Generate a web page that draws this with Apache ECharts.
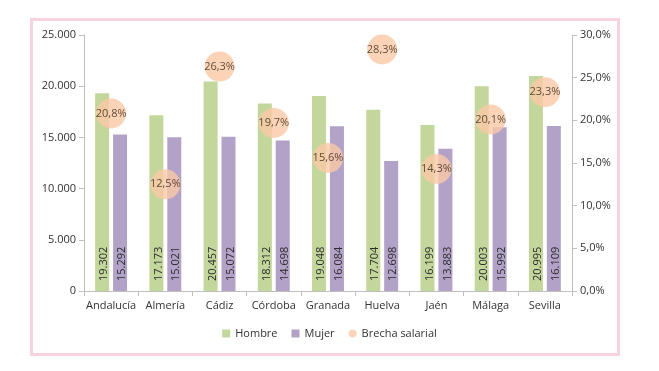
<!DOCTYPE html>
<html><head><meta charset="utf-8">
<script src="https://cdn.jsdelivr.net/npm/echarts@6/dist/echarts.min.js"></script>
<style>
html,body{margin:0;padding:0;background:#fff;}
#frame{position:absolute;left:30px;top:18px;width:584px;height:332px;border:3px solid #F8D3DF;}
#c{position:absolute;left:0;top:0;width:659px;height:371px;}
</style></head>
<body>
<div id="frame"></div>
<div id="c"></div>
<script>
const categories = ['Andalucía','Almería','Cádiz','Córdoba','Granada','Huelva','Jaén','Málaga','Sevilla'];
const hombre = [19302,17173,20457,18312,19048,17704,16199,20003,20995];
const mujer = [15292,15021,15072,14698,16084,12698,13883,15992,16109];
const brecha = [0.208,0.125,0.263,0.197,0.156,0.283,0.143,0.201,0.233];
const leftTicks = [0,5000,10000,15000,20000,25000];
const rightTicks = [0,0.05,0.10,0.15,0.20,0.25,0.30];

const fmtN = v => String(v).replace(/\B(?=(\d{3})+(?!\d))/g,'.');
const fmtP = v => (v*100).toFixed(1).replace('.',',') + '%';
const font = 'Open Sans';
const chart = echarts.init(document.getElementById('c'));
const barLabel = {show:true,position:'insideBottom',rotate:90,align:'left',verticalAlign:'middle',
  offset:[5,2],formatter:p=>fmtN(p.value),color:'#2b2b2b',fontSize:11,fontFamily:font};
chart.setOption({
  animation:false,
  textStyle:{fontFamily:font},
  grid:{left:84,right:87,top:35,bottom:80},
  legend:{
    bottom:27, left:'center', itemWidth:8, itemHeight:8, itemGap:14,
    textStyle:{fontFamily:font,fontSize:11,color:'#333'},
    data:[{name:'Hombre',icon:'rect'},{name:'Mujer',icon:'rect'},{name:'Brecha salarial',icon:'circle'}]
  },
  xAxis:{
    type:'category', data:categories,
    axisLine:{lineStyle:{color:'#BFBFBF'}},
    axisTick:{show:true,alignWithLabel:false,length:5,lineStyle:{color:'#BFBFBF'}},
    axisLabel:{color:'#333',fontSize:11,margin:9,interval:0,fontFamily:font}
  },
  yAxis:[{
    type:'value', min:0, max:25000, interval:5000,
    axisLine:{show:true,lineStyle:{color:'#BFBFBF'}},
    axisTick:{show:true,inside:false,length:5,lineStyle:{color:'#BFBFBF'}},
    splitLine:{show:false},
    axisLabel:{color:'#333',fontSize:11,formatter:v=>fmtN(v),fontFamily:font}
  },{
    type:'value', min:0, max:0.3, interval:0.05, position:'right',
    axisLine:{show:true,lineStyle:{color:'#BFBFBF'}},
    axisTick:{show:true,length:5,lineStyle:{color:'#BFBFBF'}},
    splitLine:{show:false},
    axisLabel:{color:'#333',fontSize:11,formatter:v=>fmtP(v),fontFamily:font}
  }],
  series:[{
    name:'Hombre', type:'bar', data:hombre, barWidth:14, barGap:'28%',
    itemStyle:{color:'#C3D69B'}, label:barLabel
  },{
    name:'Mujer', type:'bar', data:mujer, barWidth:14,
    itemStyle:{color:'#B3A2C7'}, label:barLabel
  },{
    name:'Brecha salarial', type:'scatter', yAxisIndex:1, data:brecha, symbolSize:30,
    itemStyle:{color:'#FAC9A6'}, z:5,
    label:{show:true,position:'inside',formatter:p=>fmtP(p.value),color:'#3a2a1a',fontSize:11,fontFamily:font}
  }]
});
</script>
</body></html>
